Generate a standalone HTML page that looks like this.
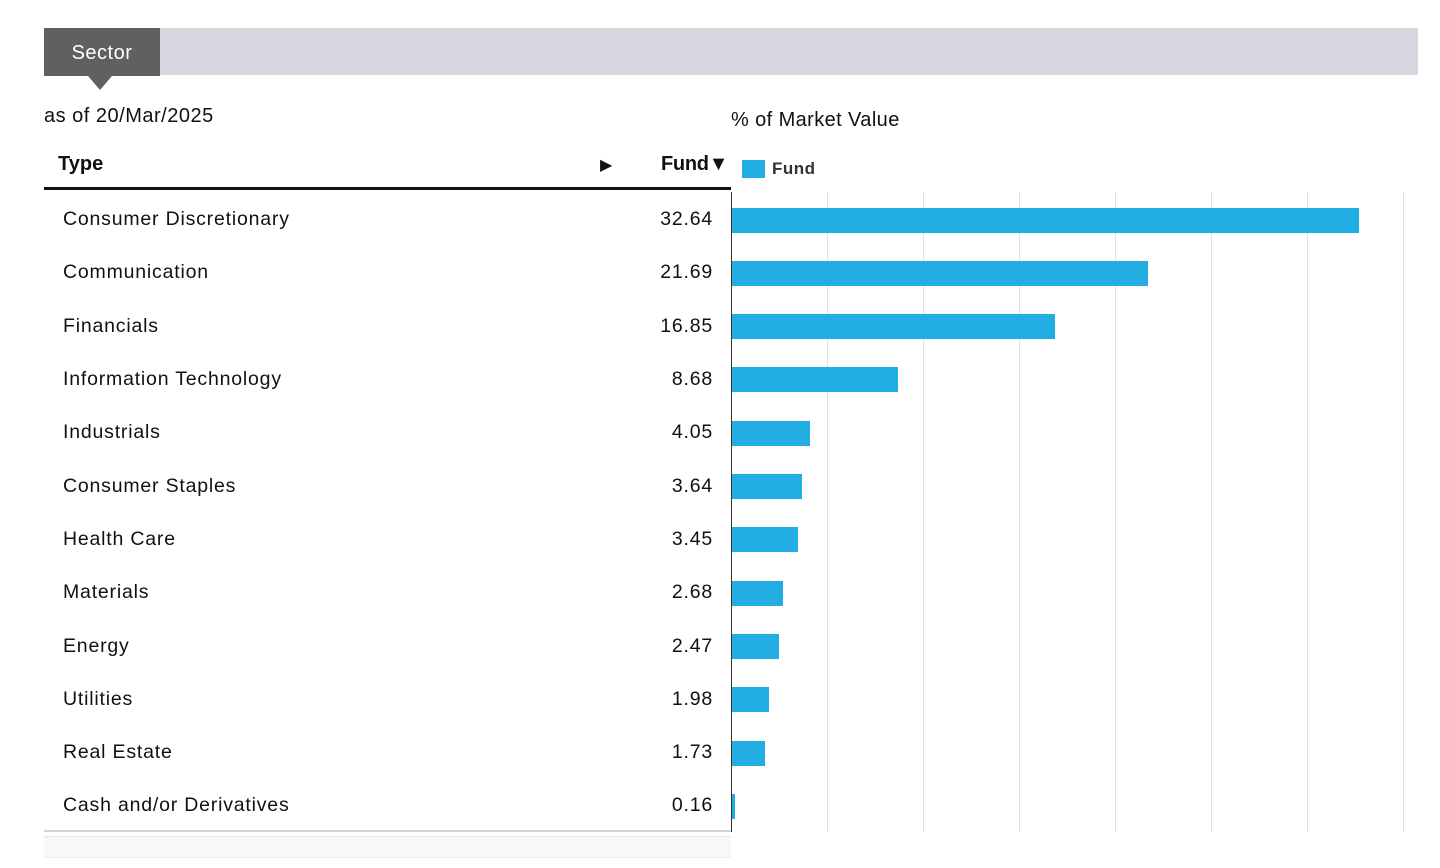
<!DOCTYPE html>
<html><head><style>
body{margin:0;width:1440px;height:868px;background:#fff;font-family:"Liberation Sans",sans-serif;position:relative;overflow:hidden;color:#111}
.a{position:absolute}
.row{position:absolute;left:63px;font-size:19.5px;letter-spacing:0.8px}
.val{position:absolute;right:727px;font-size:19.5px;letter-spacing:0.8px}
.bar{position:absolute;left:732px;height:25px;background:#22ade3}
.g{position:absolute;top:192px;height:640px;width:1px;background:#e4e4e4}
</style></head><body>
<div class="a" style="left:44px;top:28px;width:1374px;height:47px;background:#d8d7e0"></div>
<div class="a" style="left:44px;top:28px;width:116px;height:48px;background:#606060;color:#fff;font-size:20px;line-height:50px;text-align:center;letter-spacing:0.5px">Sector</div>
<div class="a" style="left:88px;top:76px;width:0;height:0;border-left:12px solid transparent;border-right:12px solid transparent;border-top:14px solid #606060"></div>
<div class="a" style="left:44px;top:105px;font-size:20px;letter-spacing:0.5px">as of 20/Mar/2025</div>
<div class="a" style="left:731px;top:109px;font-size:20px;letter-spacing:0.4px">% of Market Value</div>
<div class="a" style="left:58px;top:153px;font-size:20px;font-weight:bold">Type</div>
<div class="a" style="left:600px;top:155px;font-size:16px">▶</div>
<div class="a" style="left:661px;top:153px;font-size:20px;font-weight:bold;letter-spacing:-0.3px">Fund▼</div>
<div class="a" style="left:742px;top:160px;width:23px;height:18px;background:#22ade3"></div>
<div class="a" style="left:772px;top:159px;font-size:17px;font-weight:bold;color:#333;letter-spacing:0.5px">Fund</div>
<div class="a" style="left:44px;top:187px;width:687px;height:3px;background:#111"></div>
<div class="a" style="left:44px;top:830px;width:687px;height:2px;background:#d4d4d4"></div>
<div class="a" style="left:44px;top:836px;width:687px;height:20px;background:#f8f8f8;border-top:1px solid #e6e6e6;border-bottom:1px solid #eee"></div>
<div class="g" style="left:827px"></div><div class="g" style="left:923px"></div><div class="g" style="left:1019px"></div><div class="g" style="left:1115px"></div><div class="g" style="left:1211px"></div><div class="g" style="left:1307px"></div><div class="g" style="left:1403px"></div>
<div class="a" style="left:731px;top:192px;width:1px;height:640px;background:#333"></div>
<div class="row" style="top:208px">Consumer Discretionary</div><div class="val" style="top:208px">32.64</div><div class="bar" style="top:208px;width:627px"></div>
<div class="row" style="top:261px">Communication</div><div class="val" style="top:261px">21.69</div><div class="bar" style="top:261px;width:416px"></div>
<div class="row" style="top:315px">Financials</div><div class="val" style="top:315px">16.85</div><div class="bar" style="top:314px;width:323px"></div>
<div class="row" style="top:368px">Information Technology</div><div class="val" style="top:368px">8.68</div><div class="bar" style="top:367px;width:166px"></div>
<div class="row" style="top:421px">Industrials</div><div class="val" style="top:421px">4.05</div><div class="bar" style="top:421px;width:78px"></div>
<div class="row" style="top:475px">Consumer Staples</div><div class="val" style="top:475px">3.64</div><div class="bar" style="top:474px;width:70px"></div>
<div class="row" style="top:528px">Health Care</div><div class="val" style="top:528px">3.45</div><div class="bar" style="top:527px;width:66px"></div>
<div class="row" style="top:581px">Materials</div><div class="val" style="top:581px">2.68</div><div class="bar" style="top:581px;width:51px"></div>
<div class="row" style="top:635px">Energy</div><div class="val" style="top:635px">2.47</div><div class="bar" style="top:634px;width:47px"></div>
<div class="row" style="top:688px">Utilities</div><div class="val" style="top:688px">1.98</div><div class="bar" style="top:687px;width:37px"></div>
<div class="row" style="top:741px">Real Estate</div><div class="val" style="top:741px">1.73</div><div class="bar" style="top:741px;width:33px"></div>
<div class="row" style="top:794px">Cash and/or Derivatives</div><div class="val" style="top:794px">0.16</div><div class="bar" style="top:794px;width:3px"></div>
</body></html>
